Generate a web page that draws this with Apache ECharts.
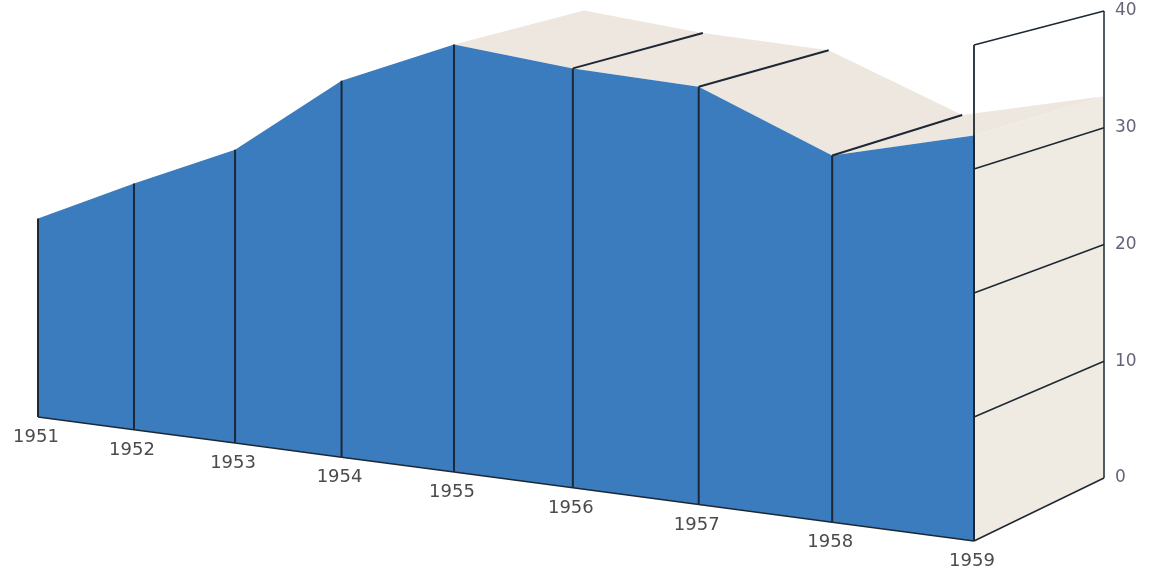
<!DOCTYPE html>
<html>
<head>
<meta charset="utf-8">
<script src="https://cdn.jsdelivr.net/npm/echarts@6/dist/echarts.min.js"></script>
<style>
  html, body { margin: 0; padding: 0; background: #fff; }
  #chart { width: 1151px; height: 577px; }
</style>
</head>
<body>
<div id="chart"></div>
<script>
const years = ['1951', '1952', '1953', '1954', '1955', '1956', '1957', '1958', '1959'];
const values = [20.0, 24.2, 28.1, 35.1, 38.8, 37.0, 35.8, 30.5, 32.7];
const valueTicks = [0, 10, 20, 30, 40];

const BLUE = '#3b7cbe';
const TOP = '#eee7df';
const SIDE = '#efebe2';
const INK = '#1d2834';

// perspective of the front plane, plus an oblique depth toward the back wall
const PERSP = { A: 741.2, C: 38, G: -0.2, D: 15.8, E: -396.8, F: 417 };
const DEPTH = { dx: 130, k: 0.05847, vy: -536.5 };

function proj(api, params, i, v, z) {
  const pt = api.coord([i, v]);
  const cs = params.coordSys;
  const u = (pt[0] - cs.x) / cs.width;
  const s = (cs.y + cs.height - pt[1]) / cs.height;
  const den = 1 + PERSP.G * u;
  let x = (PERSP.A * u + PERSP.C) / den;
  let y = (PERSP.D * u + PERSP.E * s + PERSP.F) / den;
  if (z) {
    y -= z * DEPTH.k * (y - DEPTH.vy);
    x += z * DEPTH.dx;
  }
  return [x, y];
}

function topVisible(api, params, i) {
  if (i < 0 || i >= values.length - 1) return false;
  const p0 = proj(api, params, i, values[i], 0);
  const p1 = proj(api, params, i + 1, values[i + 1], 0);
  const b0 = proj(api, params, i, values[i], 1);
  const ex = p1[0] - p0[0], ey = p1[1] - p0[1];
  const dx = b0[0] - p0[0], dy = b0[1] - p0[1];
  return ex * dy - ey * dx < 0;
}

function line(a, b, w) {
  return {
    type: 'line',
    shape: { x1: a[0], y1: a[1], x2: b[0], y2: b[1] },
    style: { stroke: INK, lineWidth: w }
  };
}

// top surfaces and the end face of the slab
function renderBack(params, api) {
  const i = params.dataIndex;
  const children = [];
  if (i < values.length - 1 && topVisible(api, params, i)) {
    children.push({
      type: 'polygon',
      shape: { points: [
        proj(api, params, i, values[i], 0),
        proj(api, params, i + 1, values[i + 1], 0),
        proj(api, params, i + 1, values[i + 1], 1),
        proj(api, params, i, values[i], 1)
      ] },
      style: { fill: TOP }
    });
  }
  if (i === values.length - 1) {
    children.push({
      type: 'polygon',
      shape: { points: [
        proj(api, params, i, 0, 0),
        proj(api, params, i, values[i], 0),
        proj(api, params, i, values[i], 1),
        proj(api, params, i, 0, 1)
      ] },
      style: { fill: SIDE }
    });
  }
  return { type: 'group', children: children };
}

// blue front face, dividers and year labels
function renderFront(params, api) {
  const i = params.dataIndex;
  const children = [];
  const base = proj(api, params, i, 0, 0);
  const top = proj(api, params, i, values[i], 0);
  if (i < values.length - 1) {
    const base2 = proj(api, params, i + 1, 0, 0);
    const top2 = proj(api, params, i + 1, values[i + 1], 0);
    children.push({
      type: 'polygon',
      shape: { points: [base, top, top2, base2] },
      style: { fill: BLUE }
    });
    children.push(line(base, base2, 1.5));
  }
  children.push(line(base, top, 2));
  if (topVisible(api, params, i - 1) && topVisible(api, params, i)) {
    children.push(line(top, proj(api, params, i, values[i], 1), 2));
  }
  children.push({
    type: 'text',
    style: {
      text: years[i],
      x: base[0] - 2,
      y: base[1] + 20.5,
      align: 'center',
      verticalAlign: 'middle',
      font: '18px "DejaVu Sans"',
      fill: '#4b4b4b'
    }
  });
  return { type: 'group', children: children };
}

// the wall frame at the last year, with its grid lines
function renderWall(params, api) {
  const last = years.length - 1;
  const v = api.value(1);
  const children = [line(proj(api, params, last, v, 0), proj(api, params, last, v, 1), 1.5)];
  if (params.dataIndex === 0) {
    const vmax = valueTicks[valueTicks.length - 1];
    children.push(line(proj(api, params, last, 0, 0), proj(api, params, last, vmax, 0), 1.8));
    children.push(line(proj(api, params, last, 0, 1), proj(api, params, last, vmax, 1), 1.5));
  }
  return { type: 'group', children: children };
}

const chart = echarts.init(document.getElementById('chart'));
const points = values.map((v, i) => [i, v]);

chart.setOption({
  animation: false,
  backgroundColor: '#fff',
  grid: { left: 38, right: 47, top: 11, bottom: 99 },
  xAxis: {
    type: 'category',
    data: years,
    boundaryGap: false,
    show: false
  },
  yAxis: {
    type: 'value',
    position: 'right',
    min: valueTicks[0],
    max: valueTicks[valueTicks.length - 1],
    interval: 10,
    axisLine: { show: false },
    axisTick: { show: false },
    splitLine: { show: false },
    axisLabel: {
      margin: 11,
      fontFamily: 'DejaVu Sans',
      fontSize: 17,
      color: '#66647a'
    }
  },
  series: [
    { type: 'custom', z: 2, clip: false, silent: true, data: points, renderItem: renderBack },
    { type: 'custom', z: 3, clip: false, silent: true, data: points, renderItem: renderFront },
    {
      type: 'custom', z: 4, clip: false, silent: true,
      data: valueTicks.map(v => [years.length - 1, v]),
      renderItem: renderWall
    }
  ]
});
</script>
</body>
</html>
